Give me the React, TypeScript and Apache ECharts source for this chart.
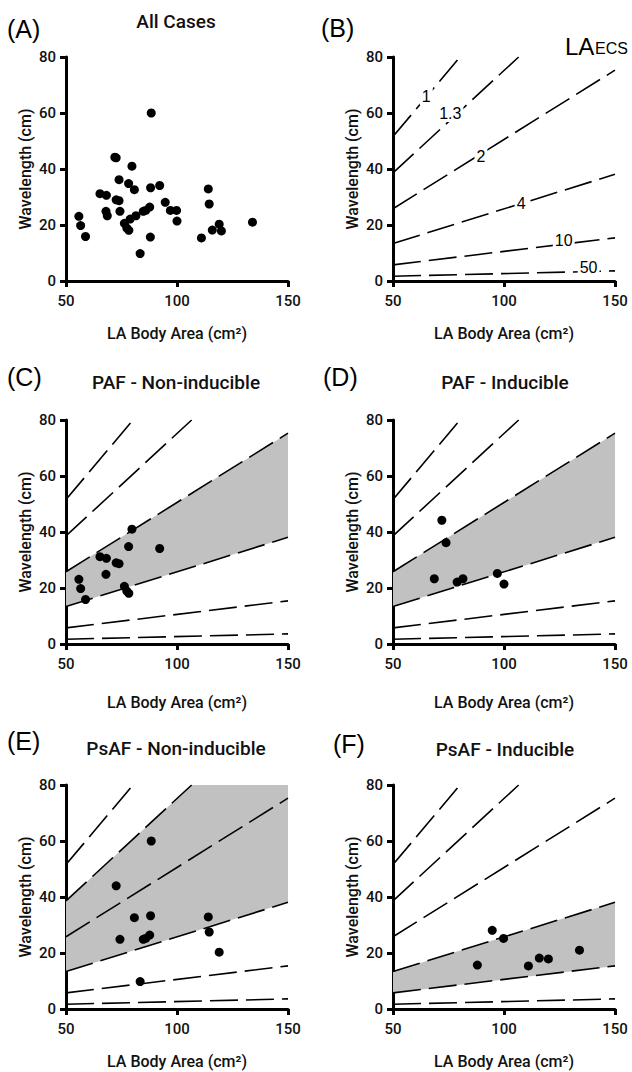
import React, { useEffect, useRef } from "react";
import * as echarts from "echarts";

// ---------- data ----------
const AREA_MIN = 50;
const AREA_MAX = 150;
const AREA_STEP = 50;
const WL_MIN = 0;
const WL_MAX = 80;
const WL_STEP = 20;

// LA_ECS iso-lines (straight), read as end points
const ratioNames = ["1", "1.3", "2", "4", "10", "50"];
const lineStartArea = [50, 50, 50, 50, 50, 50];
const lineStartWl = [51.6, 38.6, 25.8, 13.4, 5.75, 1.7];
const lineEndArea = [80.2, 106.6, 150, 150, 150, 150];
const lineEndWl = [80, 80, 75.3, 38.1, 15.4, 3.6];
// where the ratio labels sit in panel B
const ratioLabelArea = [65, 75.8, 89.6, 107.7, 126.9, 138.1];
const ratioLabelWl = [65.9, 60, 44.4, 27.6, 14.4, 4.8];

// patients, by group: [LA body area (cm2), wavelength (cm)]
const pafNonInducible = [
  [55.8, 23.1], [56.6, 19.8], [58.8, 15.9], [65.3, 31.2], [68.2, 30.6],
  [68.0, 24.9], [72.6, 29.0], [73.9, 28.7], [76.3, 20.6], [77.4, 18.9],
  [78.3, 18.1], [78.2, 34.8], [79.7, 41.0], [92.2, 34.1],
];
const pafInducible = [
  [68.6, 23.3], [72.0, 44.2], [73.9, 36.2], [78.9, 22.1], [81.5, 23.3],
  [97.0, 25.2], [100.0, 21.4],
];
const psafNonInducible = [
  [72.6, 44.0], [74.3, 24.9], [80.8, 32.6], [84.8, 24.9], [85.9, 25.2],
  [87.7, 26.4], [88.1, 33.3], [88.4, 60.0], [83.4, 9.8], [114.1, 32.9],
  [114.5, 27.5], [119.0, 20.3],
];
const psafInducible = [
  [88.0, 15.7], [94.7, 28.1], [99.8, 25.2], [111.0, 15.4], [115.9, 18.2],
  [120.0, 17.9], [134.0, 21.0],
];
const allCases = [...pafNonInducible, ...pafInducible, ...psafNonInducible, ...psafInducible];

// ---------- layout / style ----------
const DIN = 'Roboto, "Noto Sans", sans-serif';
const HELV = '"Liberation Sans", Arial, sans-serif';
const BAND = "#c1c1c1";

type Panel = {
  letter: string;
  title: string;
  left: number;
  top: number;
  letterX: number;
  letterY: number;
  titleX: number;
  titleY: number;
  nameGap: number;
  points: number[][] | null;
  band: [number, number] | null; // [upper line, lower line]
  labels: boolean;
};

const COL_L = 66;
const COL_R = 393;
const GW = 222;
const GH = 224;

const panels: Panel[] = [
  { letter: "(A)", title: "All Cases", left: COL_L, top: 57, letterX: 7, letterY: 28.5, titleX: 176, titleY: 21, nameGap: 44, points: allCases, band: null, labels: false },
  { letter: "(B)", title: "", left: COL_R, top: 57, letterX: 321, letterY: 28, titleX: 0, titleY: 0, nameGap: 44, points: null, band: null, labels: true },
  { letter: "(C)", title: "PAF - Non-inducible", left: COL_L, top: 420, letterX: 7, letterY: 377, titleX: 176, titleY: 382, nameGap: 50, points: pafNonInducible, band: [2, 3], labels: false },
  { letter: "(D)", title: "PAF - Inducible", left: COL_R, top: 420, letterX: 323, letterY: 376.5, titleX: 505, titleY: 382, nameGap: 50, points: pafInducible, band: [2, 3], labels: false },
  { letter: "(E)", title: "PsAF - Non-inducible", left: COL_L, top: 785, letterX: 7, letterY: 741, titleX: 176, titleY: 748, nameGap: 44, points: psafNonInducible, band: [1, 3], labels: false },
  { letter: "(F)", title: "PsAF - Inducible", left: COL_R, top: 785, letterX: 333, letterY: 744, titleX: 505, titleY: 749, nameGap: 44, points: psafInducible, band: [3, 4], labels: false },
];

function linePoints(i: number): number[][] {
  return [
    [lineStartArea[i], lineStartWl[i]],
    [lineEndArea[i], lineEndWl[i]],
  ];
}

function bandPolygon(upper: number, lower: number): number[][] {
  const up = linePoints(upper);
  const lo = linePoints(lower);
  const poly = [...up];
  if (up[1][0] < AREA_MAX) poly.push([AREA_MAX, WL_MAX]);
  poly.push(lo[1], lo[0]);
  return poly;
}

function buildOption() {
  const grid: any[] = [];
  const xAxis: any[] = [];
  const yAxis: any[] = [];
  const series: any[] = [];
  const graphic: any[] = [];

  const tickLabel = { fontFamily: DIN, fontSize: 15, fontWeight: 500, color: "#111" };
  const nameStyle = { fontFamily: DIN, fontSize: 16, fontWeight: 500, color: "#111" };
  const axisLine = { show: true, onZero: false, lineStyle: { color: "#000", width: 3 } };
  const axisTick = { show: true, length: 6, lineStyle: { color: "#000", width: 3 } };

  panels.forEach((p, i) => {
    grid.push({ left: p.left, top: p.top, width: GW, height: GH, outerBoundsMode: "none" });
    xAxis.push({
      gridIndex: i, type: "value", min: AREA_MIN, max: AREA_MAX, interval: AREA_STEP,
      name: "LA Body Area (cm²)", nameLocation: "middle", nameGap: p.nameGap, nameTextStyle: nameStyle,
      axisLine, axisTick, axisLabel: { ...tickLabel, margin: 12 }, splitLine: { show: false },
    });
    yAxis.push({
      gridIndex: i, type: "value", min: WL_MIN, max: WL_MAX, interval: WL_STEP,
      name: "Wavelength (cm)", nameLocation: "middle", nameGap: 33, nameTextStyle: nameStyle,
      axisLine, axisTick, axisLabel: { ...tickLabel, margin: 10 }, splitLine: { show: false },
    });

    if (p.band) {
      const poly = bandPolygon(p.band[0], p.band[1]);
      series.push({
        type: "custom", xAxisIndex: i, yAxisIndex: i, silent: true, z: 1,
        data: [[AREA_MIN, WL_MIN]],
        renderItem: (_params: any, api: any) => ({
          type: "polygon",
          shape: { points: poly.map((pt) => api.coord(pt)) },
          style: { fill: BAND },
        }),
      });
    }

    if (i > 0) {
      ratioNames.forEach((nm, k) => {
        series.push({
          type: "line", name: "LA_ECS " + nm, xAxisIndex: i, yAxisIndex: i, z: 2,
          data: linePoints(k), showSymbol: false, symbol: "none", clip: true, silent: true,
          lineStyle: { color: "#000", width: 1.6, type: [28, 8] },
        });
      });
    }

    if (p.labels) {
      series.push({
        type: "custom", xAxisIndex: i, yAxisIndex: i, z: 5, silent: true,
        data: ratioNames.map((_nm, k) => [ratioLabelArea[k], ratioLabelWl[k], k]),
        renderItem: (_params: any, api: any) => {
          const pt = api.coord([api.value(0), api.value(1)]);
          return {
            type: "group",
            children: [
              {
                type: "text", x: pt[0], y: pt[1], z2: 10,
                style: {
                  text: ratioNames[api.value(2)], font: `16px ${HELV}`, fill: "#000",
                  textAlign: "center", textVerticalAlign: "middle",
                  backgroundColor: "#fff", padding: [1, 2],
                },
              },
            ],
          };
        },
      });
    }

    if (p.points) {
      series.push({
        type: "scatter", xAxisIndex: i, yAxisIndex: i, z: 4, symbolSize: 9,
        itemStyle: { color: "#000", opacity: 1 }, data: p.points,
      });
    }

    graphic.push({
      type: "text", x: p.letterX, y: p.letterY,
      style: { text: p.letter, font: `25px ${HELV}`, fill: "#000", textAlign: "left", textVerticalAlign: "middle" },
    });
    if (p.title) {
      graphic.push({
        type: "text", x: p.titleX, y: p.titleY,
        style: { text: p.title, font: `500 19px ${DIN}`, fill: "#111", textAlign: "center", textVerticalAlign: "middle" },
      });
    }
  });

  graphic.push({
    type: "text", x: 565, y: 58,
    style: { text: "LA", font: `24px ${HELV}`, fill: "#000", textAlign: "left", textVerticalAlign: "bottom" },
  });
  graphic.push({
    type: "text", x: 595, y: 56.5,
    style: { text: "ECS", font: `16px ${HELV}`, fill: "#000", textAlign: "left", textVerticalAlign: "bottom" },
  });

  return { animation: false, backgroundColor: "#fff", grid, xAxis, yAxis, series, graphic };
}

export default function App() {
  const ref = useRef<HTMLDivElement>(null);
  useEffect(() => {
    if (!ref.current) return;
    const chart = echarts.init(ref.current, undefined, { renderer: "svg" });
    chart.setOption(buildOption());
    return () => chart.dispose();
  }, []);
  return (
    <div
      ref={ref}
      style={{ position: "fixed", left: 0, top: 0, width: 632, height: 1072, background: "#fff" }}
    />
  );
}
